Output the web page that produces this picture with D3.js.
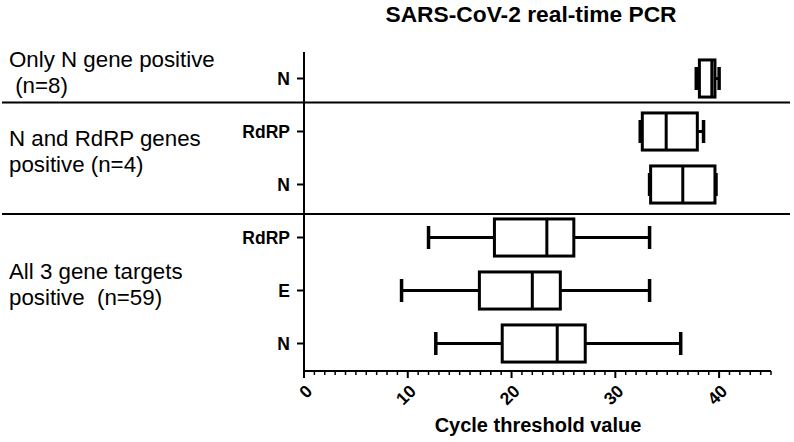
<!DOCTYPE html>
<html>
<head>
<meta charset="utf-8">
<script src="https://cdn.jsdelivr.net/npm/d3@7"></script>
<style>
  html, body { margin: 0; padding: 0; background: #fff; }
  svg { display: block; font-family: "Liberation Sans", Arial, sans-serif; }
  text { white-space: pre; }
</style>
</head>
<body>
<svg id="chart" width="794" height="442"></svg>
<script>
// ---- data ----
const categories = ["N", "RdRP", "N", "RdRP", "E", "N"];
const whiskerLow = [37.8, 32.4, 33.3, 12.0, 9.4, 12.7];
const q1 = [38.1, 32.6, 33.4, 18.35, 16.9, 19.1];
const median = [39.3, 34.9, 36.5, 23.4, 22.0, 24.4];
const q3 = [39.6, 37.9, 39.6, 26.0, 24.7, 27.1];
const whiskerHigh = [40.0, 38.5, 39.7, 33.3, 33.3, 36.3];
const groupLabels = [
  ["Only N gene positive", " (n=8)"],
  ["N and RdRP genes", "positive (n=4)"],
  ["All 3 gene targets", "positive  (n=59)"]
];
const groupRows = [[0, 0], [1, 2], [3, 5]];
const xTicks = [0, 10, 20, 30, 40];
const title = "SARS-CoV-2 real-time PCR";
const xTitle = "Cycle threshold value";

// ---- layout ----
const svg = d3.select("#chart");
const x = d3.scaleLinear().domain([0, 45]).range([304, 771]);
const idx = d3.range(categories.length);
const y = d3.scaleBand().domain(idx).range([52, 370]).padding(0);
const boxH = y.bandwidth() * 0.7;
const capH = boxH * 0.62;
const axisY = 371;

// title
svg.append("text").attr("transform", "translate(531,22) scale(1.06,1)").attr("text-anchor", "middle")
  .attr("font-size", 21.5).attr("font-weight", "bold").text(title);

// group separators
const sepShift = [-2.5, 3];
[0, 1].forEach(gi => {
  const yy = (y(groupRows[gi][1]) + y.bandwidth() + y(groupRows[gi + 1][0])) / 2 + sepShift[gi];
  svg.append("line").attr("x1", 2).attr("x2", 790).attr("y1", yy).attr("y2", yy)
    .attr("stroke", "#000").attr("stroke-width", 2);
});

// group labels
groupLabels.forEach((lines, gi) => {
  const top = y(groupRows[gi][0]);
  const bot = y(groupRows[gi][1]) + y.bandwidth();
  const mid = (top + bot) / 2;
  const t = svg.append("text").attr("font-size", 22.3).attr("fill", "#000");
  lines.forEach((ln, i) => {
    t.append("tspan").attr("x", 9).attr("y", mid - 12 + i * 26).text(ln);
  });
});

// y axis
svg.append("line").attr("x1", x(0)).attr("x2", x(0)).attr("y1", 52).attr("y2", axisY + 1)
  .attr("stroke", "#000").attr("stroke-width", 2);
idx.forEach(i => {
  const cy = y(i) + y.bandwidth() / 2;
  svg.append("line").attr("x1", x(0) - 7).attr("x2", x(0)).attr("y1", cy).attr("y2", cy)
    .attr("stroke", "#000").attr("stroke-width", 2);
  svg.append("text").attr("x", x(0) - 14).attr("y", cy).attr("dy", "0.36em")
    .attr("text-anchor", "end").attr("font-size", 17.5).attr("font-weight", "bold")
    .text(categories[i]);
});

// x axis
svg.append("line").attr("x1", x(0) - 1).attr("x2", x(45)).attr("y1", axisY).attr("y2", axisY)
  .attr("stroke", "#000").attr("stroke-width", 2);
d3.range(0, 46).forEach(v => {
  const major = v % 10 === 0;
  svg.append("line").attr("x1", x(v)).attr("x2", x(v)).attr("y1", axisY)
    .attr("y2", axisY + (major ? 7 : 4)).attr("stroke", "#000").attr("stroke-width", major ? 2 : 1.5);
});
xTicks.forEach(v => {
  svg.append("text").attr("transform", `translate(${x(v) + 5},${axisY + 17}) rotate(-45)`)
    .attr("text-anchor", "end").attr("dy", "0.35em")
    .attr("font-size", 17.5).attr("font-weight", "bold").text(v);
});
svg.append("text").attr("x", 538).attr("y", 432).attr("text-anchor", "middle")
  .attr("font-size", 20).attr("font-weight", "bold").text(xTitle);

// boxes
const g = svg.append("g").attr("stroke", "#000").attr("stroke-width", 3).attr("fill", "none");
idx.forEach(i => {
  const cy = y(i) + y.bandwidth() / 2;
  g.append("line").attr("x1", x(whiskerLow[i])).attr("x2", x(q1[i])).attr("y1", cy).attr("y2", cy);
  g.append("line").attr("x1", x(q3[i])).attr("x2", x(whiskerHigh[i])).attr("y1", cy).attr("y2", cy);
  g.append("line").attr("x1", x(whiskerLow[i])).attr("x2", x(whiskerLow[i]))
    .attr("y1", cy - capH / 2).attr("y2", cy + capH / 2).attr("stroke-width", 3.5);
  g.append("line").attr("x1", x(whiskerHigh[i])).attr("x2", x(whiskerHigh[i]))
    .attr("y1", cy - capH / 2).attr("y2", cy + capH / 2).attr("stroke-width", 3.5);
  g.append("rect").attr("x", x(q1[i])).attr("y", cy - boxH / 2)
    .attr("width", x(q3[i]) - x(q1[i])).attr("height", boxH).attr("fill", "#fff");
  g.append("line").attr("x1", x(median[i])).attr("x2", x(median[i]))
    .attr("y1", cy - boxH / 2).attr("y2", cy + boxH / 2);
});
</script>
</body>
</html>
